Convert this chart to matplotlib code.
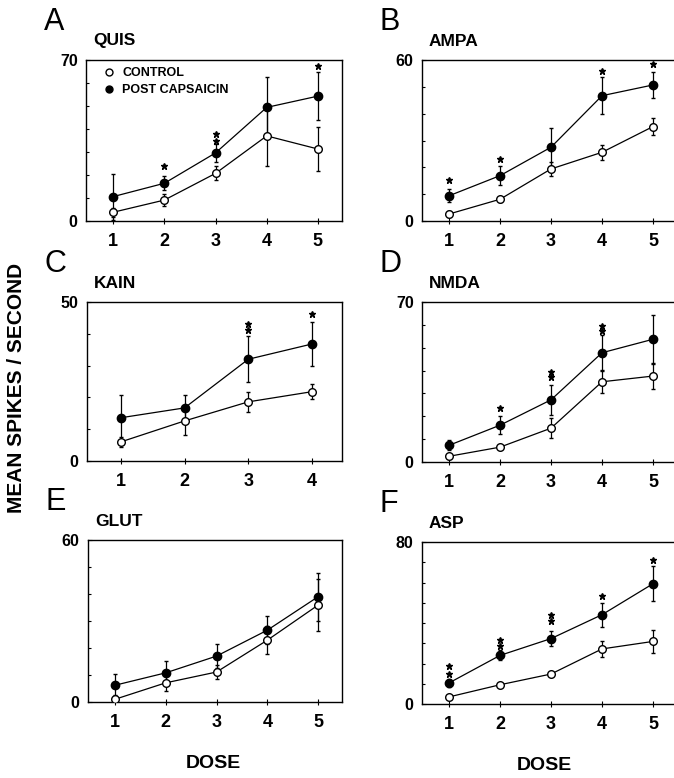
import matplotlib
matplotlib.use("Agg")
import matplotlib.pyplot as plt
from matplotlib.lines import Line2D
from matplotlib.ticker import MultipleLocator, FixedLocator

plt.rcParams['font.family'] = ['Liberation Sans', 'DejaVu Sans']
plt.rcParams['font.weight'] = 'bold'

W, H = 674, 778

# ---- data ----
quis_dose = [1, 2, 3, 4, 5]
quis_ctrl = [3.8, 9.1, 20.7, 37.0, 31.3]
quis_ctrl_err = [2.0, 2.5, 3.0, 13.0, 9.6]
quis_post = [10.6, 16.4, 29.6, 49.4, 54.3]
quis_post_err = [10.0, 3.0, 4.0, 13.0, 10.5]
quis_star_x = [2, 3, 3, 5]
quis_star_y = [24.0, 38.0, 35.0, 67.4]

ampa_dose = [1, 2, 3, 4, 5]
ampa_ctrl = [2.6, 8.1, 19.4, 25.6, 35.2]
ampa_ctrl_err = [1.0, 1.0, 2.5, 2.8, 3.0]
ampa_post = [9.4, 16.9, 27.5, 46.7, 50.7]
ampa_post_err = [2.5, 3.5, 7.0, 6.8, 5.0]
ampa_star_x = [1, 2, 4, 5]
ampa_star_y = [15.3, 23.1, 55.9, 58.4]

kain_dose = [1, 2, 3, 4]
kain_ctrl = [6.0, 12.6, 18.6, 21.8]
kain_ctrl_err = [1.5, 4.4, 3.2, 2.3]
kain_post = [13.6, 16.7, 32.0, 36.8]
kain_post_err = [7.2, 4.0, 7.2, 7.0]
kain_star_x = [3, 3, 4]
kain_star_y = [43.0, 41.1, 46.1]

nmda_dose = [1, 2, 3, 4, 5]
nmda_ctrl = [2.5, 6.5, 14.8, 35.1, 37.6]
nmda_ctrl_err = [1.0, 1.0, 4.4, 5.0, 5.5]
nmda_post = [7.3, 16.1, 27.2, 47.8, 53.7]
nmda_post_err = [2.2, 4.0, 6.5, 7.8, 10.8]
nmda_star_x = [2, 3, 3, 4, 4]
nmda_star_y = [23.8, 39.5, 37.0, 59.4, 57.4]

glut_dose = [1, 2, 3, 4, 5]
glut_ctrl = [1.0, 7.1, 11.1, 22.9, 35.9]
glut_ctrl_err = [1.5, 3.0, 2.5, 5.3, 9.5]
glut_post = [6.2, 10.8, 17.0, 26.6, 39.0]
glut_post_err = [4.3, 4.3, 4.4, 5.2, 8.9]
glut_star_x = []
glut_star_y = []

asp_dose = [1, 2, 3, 4, 5]
asp_ctrl = [3.5, 9.5, 14.8, 27.2, 30.9]
asp_ctrl_err = [1.0, 1.0, 1.0, 4.0, 5.8]
asp_post = [10.4, 24.0, 32.3, 44.1, 59.4]
asp_post_err = [2.0, 2.5, 3.7, 6.0, 8.6]
asp_star_x = [1, 1, 2, 2, 3, 3, 4, 5]
asp_star_y = [18.6, 15.0, 31.8, 28.5, 44.1, 41.2, 53.2, 71.3]

panels = [
    # letter, title, ymax, dose, ctrl, ctrl_err, post, post_err, star_x, star_y, box(l, t, r, b) in px
    ('A', 'QUIS', 70, quis_dose, quis_ctrl, quis_ctrl_err, quis_post, quis_post_err,
     quis_star_x, quis_star_y, (86, 60, 342, 221)),
    ('B', 'AMPA', 60, ampa_dose, ampa_ctrl, ampa_ctrl_err, ampa_post, ampa_post_err,
     ampa_star_x, ampa_star_y, (422, 60, 677, 221)),
    ('C', 'KAIN', 50, kain_dose, kain_ctrl, kain_ctrl_err, kain_post, kain_post_err,
     kain_star_x, kain_star_y, (87, 302, 342, 461)),
    ('D', 'NMDA', 70, nmda_dose, nmda_ctrl, nmda_ctrl_err, nmda_post, nmda_post_err,
     nmda_star_x, nmda_star_y, (422, 302, 677, 462)),
    ('E', 'GLUT', 60, glut_dose, glut_ctrl, glut_ctrl_err, glut_post, glut_post_err,
     glut_star_x, glut_star_y, (88, 540, 342, 702)),
    ('F', 'ASP', 80, asp_dose, asp_ctrl, asp_ctrl_err, asp_post, asp_post_err,
     asp_star_x, asp_star_y, (422, 542, 677, 704)),
]

fig = plt.figure(figsize=(W / 100, H / 100), dpi=100)


def fx(px):
    return px / W


def fy(py):
    return 1 - py / H


for letter, title, ymax, dose, ctrl, ctrl_err, post, post_err, sx, sy, box in panels:
    l, t, r, b = box
    ax = fig.add_axes([fx(l), fy(b), fx(r) - fx(l), fy(t) - fy(b)])
    n = len(dose)
    ax.set_xlim(0.47, n + 0.47)
    ax.set_ylim(0, ymax)

    ax.errorbar(dose, post, yerr=post_err, fmt='-o', color='black', lw=0.9,
                elinewidth=0.9, capsize=1.2, ms=6, mfc='black', mec='black',
                zorder=3)
    ax.errorbar(dose, ctrl, yerr=ctrl_err, fmt='-o', color='black', lw=0.9,
                elinewidth=0.9, capsize=1.2, ms=5.5, mfc='white', mec='black',
                mew=1.0, zorder=4)
    if len(sx):
        ax.plot(sx, sy, linestyle='none', marker='*', ms=5, color='black',
                zorder=5, clip_on=False)

    ax.yaxis.set_major_locator(FixedLocator([0, ymax]))
    ax.yaxis.set_minor_locator(MultipleLocator(10))
    ax.set_xticks(dose)
    ax.tick_params(axis='y', which='major', direction='in', length=3, width=0.8,
                   labelsize=11.5, pad=6)
    ax.tick_params(axis='y', which='minor', direction='in', length=2.5, width=0.8)
    ax.tick_params(axis='x', which='major', direction='inout', length=5, width=0.8,
                   labelsize=13, pad=6)
    for lab in ax.get_xticklabels() + ax.get_yticklabels():
        lab.set_fontweight('bold')
    for sp in ax.spines.values():
        sp.set_linewidth(1.0)

    fig.text(fx(l - 42), fy(t - 38), letter, fontsize=22, fontweight='normal',
             va='center', ha='left')
    fig.text(fx(l + 7), fy(t - 19), title, fontsize=12.5, fontweight='bold',
             va='center', ha='left')

    if letter == 'A':
        handles = [Line2D([], [], ls='none', marker='o', ms=5, mfc='white',
                          mec='black', mew=1.0),
                   Line2D([], [], ls='none', marker='o', ms=5, mfc='black',
                          mec='black')]
        leg = ax.legend(handles, ['CONTROL', 'POST CAPSAICIN'], loc='upper left',
                        frameon=False, fontsize=9, handlelength=0.8,
                        handletextpad=0.7, labelspacing=0.35, borderaxespad=0.2,
                        bbox_to_anchor=(0.04, 1.0))
        for txt in leg.get_texts():
            txt.set_fontweight('bold')

fig.text(fx(17), fy(388), 'MEAN SPIKES / SECOND', rotation=90, fontsize=15,
         fontweight='bold', va='center', ha='center')
fig.text(fx(213), fy(763), 'DOSE', fontsize=14, fontweight='bold',
         va='center', ha='center')
fig.text(fx(544), fy(765), 'DOSE', fontsize=14, fontweight='bold',
         va='center', ha='center')

fig.savefig('out.png', dpi=100)
